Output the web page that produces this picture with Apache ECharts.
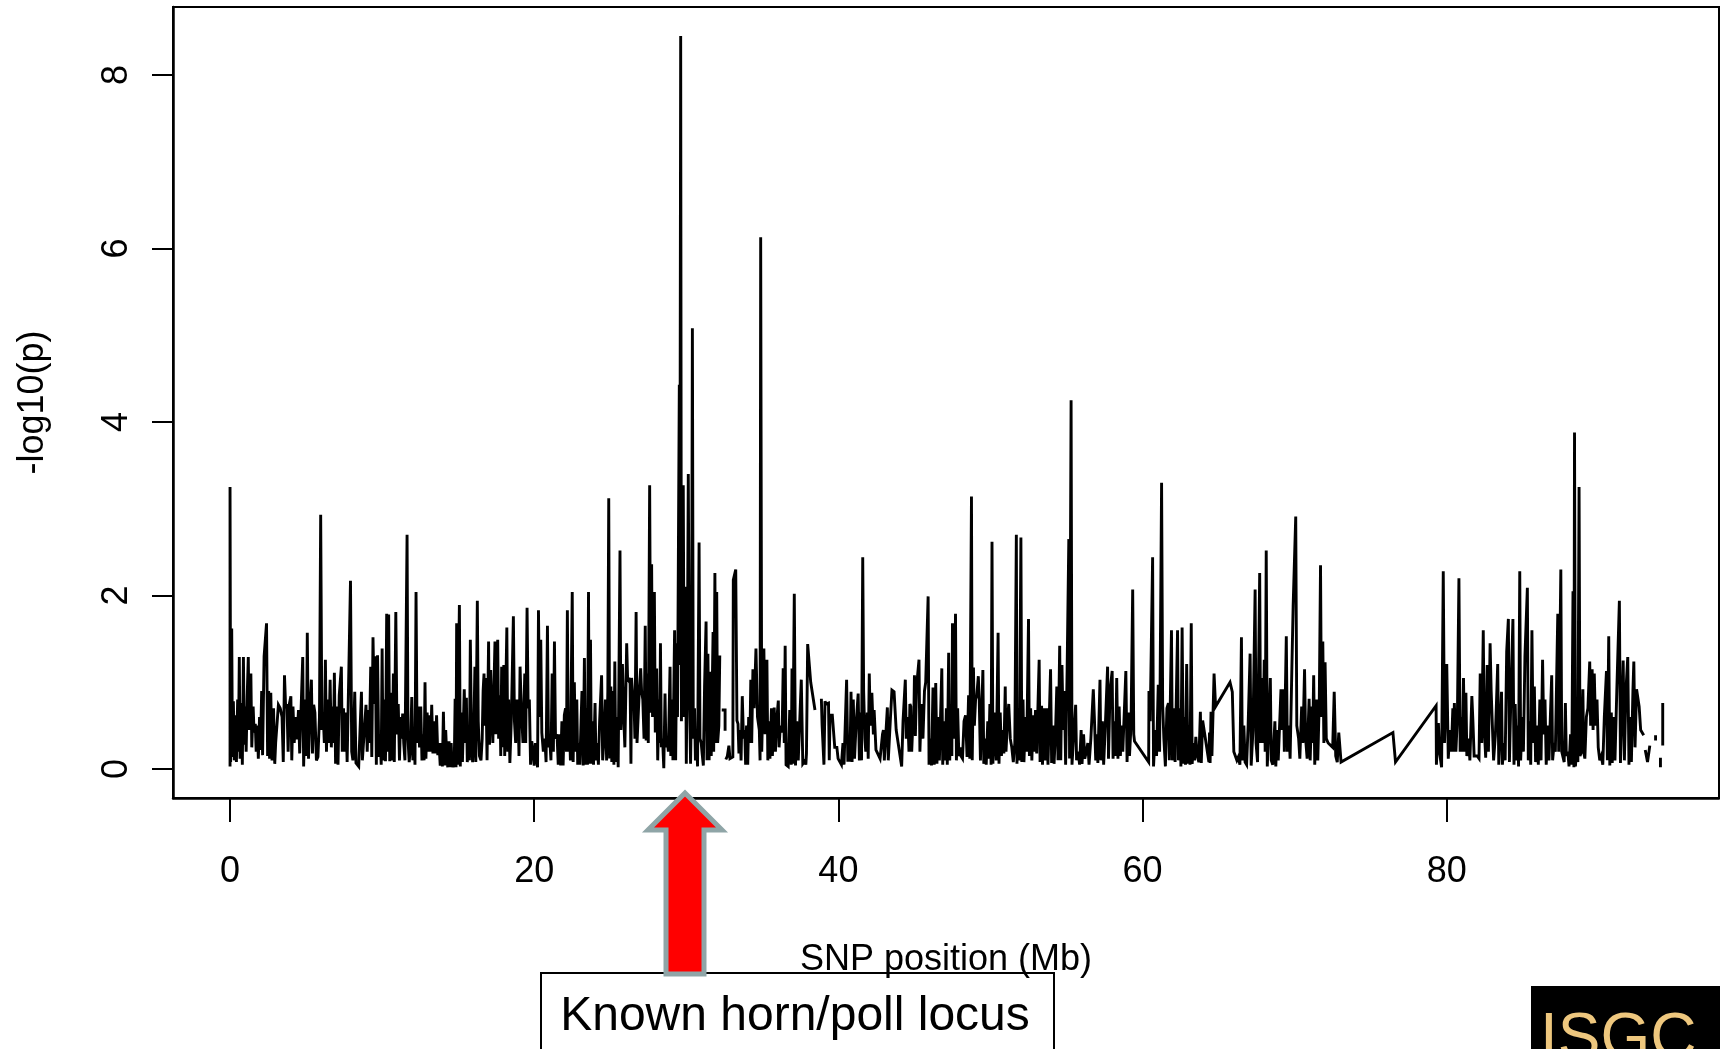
<!DOCTYPE html>
<html>
<head>
<meta charset="utf-8">
<style>html,body{margin:0;padding:0;background:#fff;overflow:hidden}#chart{width:1720px;height:1049px}</style>
<script src="https://cdn.jsdelivr.net/npm/echarts@6/dist/echarts.min.js"></script>
</head>
<body>
<div id="chart"></div>
<script>
const xTicks = [0, 20, 40, 60, 80];
const yTicks = [0, 2, 4, 6, 8];
const xTitle = 'SNP position (Mb)';
const yTitle = '-log10(p)';

// [position in Mb, -log10(p)], stretch by stretch
const snp0to10 = [[0,.03],[0,3.25],[.04,.08],[.11,1.62],[.16,.14],[.22,.78],[.28,.1],[.36,.62],[.42,.08],[.5,.8],[.55,.2],[.61,1.29],[.66,.12],[.74,.76],[.81,.05],[.88,1.29],[.94,.28],[1,.72],[1.06,.2],[1.13,.85],[1.2,1.29],[1.26,.45],[1.37,1.1],[1.43,.25],[1.52,.72],[1.58,.42],[1.66,.52],[1.72,.2],[1.8,.5],[1.86,.12],[1.94,.6],[2,.22],[2.08,.9],[2.14,.16],[2.24,1.3],[2.4,1.68],[2.47,.15],[2.54,.9],[2.6,.12],[2.68,.88],[2.76,.1],[2.86,.7],[2.94,.06],[3,.3],[3.18,.74],[3.3,.7],[3.42,.6],[3.5,.08],[3.58,1.08],[3.66,.7],[3.74,.75],[3.82,.2],[3.9,.75],[4,.84],[4.06,.1],[4.14,.72],[4.22,.3],[4.32,.6],[4.4,.34],[4.5,.68],[4.58,.18],[4.66,.2],[4.78,1.29],[4.84,.03],[4.94,.8],[5.02,.15],[5.08,1.57],[5.16,.12],[5.26,.7],[5.35,1.03],[5.42,.18],[5.5,.74],[5.58,.65],[5.68,.1],[5.78,.14],[5.88,.6],[5.96,2.93],[6.04,.45],[6.12,.65],[6.2,.3],[6.27,1.26],[6.34,.2],[6.42,.8],[6.5,.3],[6.58,1.03],[6.66,.25],[6.74,.72],[6.8,.3],[6.86,1.11],[6.94,.06],[7.02,.72],[7.1,.05],[7.18,.85],[7.32,1.18],[7.38,.2],[7.46,.7],[7.54,.2],[7.62,.65],[7.7,.08],[7.82,.1],[7.92,2.17],[8,.2],[8.08,.1],[8.2,.89],[8.28,.07],[8.38,.06],[8.46,.03],[8.54,.05],[8.64,.89],[8.7,.1],[8.8,.1],[8.94,.74],[9.02,.2],[9.1,.68],[9.16,.3],[9.25,1.18],[9.32,.14],[9.4,1.52],[9.48,.75],[9.56,1.3],[9.62,.05],[9.7,1.31],[9.78,.14],[9.86,.4],[9.94,.05]];
const snp10to20 = [[10,1.39],[10.06,.1],[10.14,.8],[10.22,.09],[10.3,1.79],[10.36,.2],[10.43,1.78],[10.5,.09],[10.58,.88],[10.66,.1],[10.74,1.1],[10.8,.08],[10.9,1.81],[10.98,.4],[11.06,.75],[11.14,.1],[11.22,.6],[11.28,.35],[11.35,.64],[11.42,.3],[11.5,.1],[11.64,2.7],[11.7,.35],[11.78,.08],[11.86,.25],[11.95,.83],[12.02,.1],[12.1,.42],[12.16,.05],[12.23,2.04],[12.3,.3],[12.38,.72],[12.46,.25],[12.54,.72],[12.62,.1],[12.7,.4],[12.76,.1],[12.82,1],[12.88,.12],[12.96,.65],[13.04,.2],[13.12,.62],[13.18,.2],[13.26,.74],[13.34,.18],[13.42,.55],[13.5,.18],[13.58,.62],[13.66,.16],[13.74,.3],[13.82,.04],[13.9,.3],[13.96,.03],[14.03,.66],[14.1,.04],[14.18,.45],[14.26,.1],[14.32,.02],[14.4,.32],[14.46,.02],[14.54,.3],[14.6,.02],[14.68,.1],[14.74,.02],[14.8,.81],[14.86,.02],[14.9,1.68],[14.95,.05],[15.08,1.89],[15.14,.03],[15.2,.65],[15.28,.08],[15.4,.92],[15.48,.3],[15.54,.82],[15.6,.08],[15.68,.3],[15.74,.1],[15.8,1.49],[15.88,.32],[15.95,.08],[16.02,.35],[16.1,1.18],[16.16,.08],[16.26,1.94],[16.32,.55],[16.4,.15],[16.5,.1],[16.58,.35],[16.64,.9],[16.7,1.1],[16.76,.5],[16.82,1.05],[16.9,.1],[17,1.47],[17.06,.28],[17.14,1.14],[17.2,.7],[17.28,.3],[17.34,.85],[17.42,1.47],[17.48,.4],[17.6,1.49],[17.66,.35],[17.74,.85],[17.8,.15],[17.86,1.18],[17.92,.25],[18,1.2],[18.06,.15],[18.2,1.63],[18.26,.2],[18.32,.8],[18.4,.07],[18.5,.6],[18.63,1.76],[18.7,.55],[18.78,.3],[18.86,.8],[18.94,.62],[19,.15],[19.07,1.18],[19.14,.75],[19.2,.75],[19.26,.3],[19.38,1.1],[19.44,.3],[19.53,1.86],[19.6,.7],[19.68,.8],[19.76,.05],[19.84,.32],[19.92,.2]];
const snp20to30 = [[20,.04],[20.08,.3],[20.14,.2],[20.22,.02],[20.28,1.83],[20.36,.6],[20.43,1.49],[20.5,.42],[20.6,.2],[20.7,.35],[20.78,.08],[20.87,1.65],[20.94,.25],[21.02,.35],[21.1,.1],[21.18,1.1],[21.26,.2],[21.33,1.47],[21.4,.35],[21.5,.4],[21.58,.05],[21.66,.4],[21.74,.04],[21.82,.55],[21.9,.04],[21.98,.62],[22.06,.7],[22.12,.2],[22.18,1.83],[22.24,.2],[22.3,.65],[22.38,.1],[22.5,2.04],[22.56,.08],[22.64,1],[22.7,.2],[22.8,.8],[22.86,.05],[22.94,.3],[23,.05],[23.08,.55],[23.14,.9],[23.22,.04],[23.3,1.28],[23.36,.05],[23.44,.7],[23.5,.05],[23.57,2.04],[23.62,.06],[23.7,1.49],[23.76,.06],[23.84,.55],[23.9,.05],[24,.76],[24.06,.1],[24.14,.3],[24.22,.05],[24.3,.55],[24.43,1.08],[24.5,.1],[24.6,.38],[24.68,.8],[24.76,.1],[24.84,.9],[24.9,3.12],[24.96,.12],[25.04,.95],[25.1,.08],[25.18,.9],[25.24,.05],[25.3,1.24],[25.36,.08],[25.44,.6],[25.52,.02],[25.64,2.52],[25.7,.45],[25.8,1.21],[25.88,.62],[25.96,.25],[26.08,1.45],[26.14,1.05],[26.22,1.02],[26.3,1.05],[26.36,.06],[26.4,1.05],[26.48,.85],[26.56,.8],[26.62,.35],[26.7,1.81],[26.76,.3],[26.84,.28],[26.92,.95],[27,1.16],[27.06,.9],[27.14,.8],[27.22,.35],[27.3,1.65],[27.36,.33],[27.44,1.1],[27.5,.3],[27.59,3.27],[27.66,.65],[27.72,2.36],[27.78,.6],[27.9,2.04],[27.96,.42],[28.05,1.16],[28.12,.1],[28.2,.8],[28.25,.3],[28.3,1.45],[28.36,.25],[28.44,.35],[28.52,.01],[28.6,.87],[28.66,.25],[28.74,.35],[28.82,.2],[28.93,1.18],[28.98,.15],[29.06,.8],[29.12,.1],[29.23,1.6],[29.3,.1],[29.37,1.45],[29.42,.6],[29.54,4.43],[29.57,1.2],[29.63,8.45],[29.68,.55],[29.74,1.7],[29.8,3.27],[29.86,.6],[29.94,2.1],[30,.06]];
const snp30to32 = [[30.08,1.6],[30.13,3.4],[30.2,.95],[30.28,.06],[30.34,.8],[30.4,5.08],[30.46,.35],[30.54,.7],[30.6,.1],[30.68,.33],[30.74,.03],[30.84,2.61],[30.9,.35],[30.98,.3],[31.04,.18],[31.12,.04],[31.2,.95],[31.3,1.7],[31.36,.1],[31.42,1.33],[31.5,.1],[31.56,1.12],[31.64,.15],[31.76,1.58],[31.8,.2],[31.88,2.26],[31.94,.3],[32,2.04],[32.06,.3],[32.14,.5],[32.2,1.31]];
const snp32short = [[32.33,.68],[32.55,.68],[32.55,.44]];
const snp33to38 = [[32.6,.11],[32.7,.15],[32.8,.27],[32.87,.12],[33.06,.14],[33.09,2.18],[33.25,2.3],[33.33,.56],[33.4,.52],[33.46,.18],[33.54,.45],[33.6,.1],[33.68,.84],[33.76,.35],[33.84,.45],[33.9,.05],[33.96,.5],[34.04,.05],[34.1,.6],[34.18,.3],[34.24,1.03],[34.3,.3],[34.38,1.15],[34.46,.7],[34.58,1.39],[34.68,.6],[34.8,.45],[34.85,.1],[34.89,6.13],[34.96,.2],[35.04,.85],[35.1,1.39],[35.18,.4],[35.3,1.26],[35.36,.1],[35.44,.55],[35.5,.12],[35.6,.7],[35.66,.15],[35.78,.71],[35.86,.2],[35.94,.55],[36.05,.79],[36.1,.25],[36.18,.5],[36.3,.42],[36.37,1.16],[36.44,.3],[36.5,1.42],[36.56,.05],[36.7,.03],[36.8,.68],[36.9,.05],[36.95,1.16],[37,.06],[37.1,2.02],[37.18,.04],[37.26,.55],[37.36,.1],[37.44,.1],[37.56,1.03],[37.66,.06],[37.74,.04],[37.82,.1],[37.86,.05],[37.9,.18],[37.98,1.44],[38.1,1.44],[38.18,1],[38.46,.68]];
const snp39to45 = [[38.88,.81],[38.93,.5],[39.05,.05],[39.12,.78],[39.2,.75],[39.35,.76],[39.4,.1],[39.45,.62],[39.6,.62],[39.66,.62],[39.76,.25],[39.9,.25],[39.98,.12],[40.1,.14],[40.2,.05],[40.3,.3],[40.37,.05],[40.54,1.03],[40.62,.1],[40.76,.1],[40.83,.89],[40.9,.08],[40.98,.8],[41.06,.12],[41.16,.5],[41.3,.87],[41.38,.1],[41.46,.65],[41.52,.1],[41.6,2.44],[41.66,.9],[41.74,.35],[41.8,.2],[41.9,.65],[41.96,.12],[42.03,1.1],[42.1,.5],[42.2,.88],[42.3,.4],[42.35,.68],[42.47,.22],[42.74,.12],[42.9,.4],[42.96,.45],[43.02,.1],[43.22,.71],[43.28,.1],[43.42,.58],[43.52,.91],[43.66,.89],[43.8,.45],[44.16,.03],[44.25,.55],[44.4,1.03],[44.46,.35],[44.56,.6],[44.64,.2],[44.7,.75],[44.76,.72],[44.82,.2],[44.9,.55],[44.95,.45]];
const snp45to50 = [[45,1.08],[45.06,.38],[45.14,.95],[45.3,1.26],[45.36,.2],[45.46,.75],[45.56,.35],[45.66,.9],[45.74,1],[45.9,1.99],[45.96,.05],[46.04,.35],[46.12,.04],[46.22,.94],[46.3,.05],[46.4,.99],[46.48,.06],[46.56,.6],[46.64,.1],[46.8,1.16],[46.86,.05],[46.94,.55],[47.02,.1],[47.1,.7],[47.16,.05],[47.25,1.34],[47.32,.1],[47.4,.75],[47.46,.15],[47.5,1.68],[47.6,.35],[47.7,1.79],[47.76,.1],[47.84,.7],[47.92,.15],[48,.25],[48.06,.15],[48.16,.12],[48.26,.55],[48.36,.62],[48.46,.14],[48.56,.85],[48.64,.12],[48.75,3.14],[48.8,.1],[48.88,1.17],[48.94,.5],[49.02,.8],[49.1,.85],[49.2,1.07],[49.26,.8],[49.34,.1],[49.5,1.14],[49.56,.06],[49.66,.35],[49.72,.05],[49.82,.55],[49.88,.12],[49.96,.75],[50.04,.05]];
const snp50to60 = [[50.1,2.62],[50.16,.06],[50.24,.65],[50.3,.4],[50.38,.1],[50.5,1.57],[50.56,.06],[50.64,.65],[50.72,.15],[50.8,.45],[50.88,.18],[50.97,.95],[51.02,.2],[51.1,.5],[51.2,.75],[51.3,.35],[51.4,.25],[51.5,.08],[51.6,.3],[51.7,2.7],[51.74,.06],[51.84,.7],[51.9,.1],[52,2.67],[52.06,.08],[52.14,.8],[52.2,.08],[52.3,.6],[52.38,.2],[52.5,1.73],[52.56,.15],[52.64,.7],[52.72,.1],[52.8,.62],[52.86,.2],[52.96,.68],[53.04,.18],[53.2,1.26],[53.26,.08],[53.36,.73],[53.42,.05],[53.52,.7],[53.6,.1],[53.7,.7],[53.78,.05],[53.95,1.15],[54.02,.07],[54.1,.5],[54.18,.06],[54.28,.45],[54.36,.95],[54.44,.1],[54.55,1.42],[54.62,.1],[54.7,1.2],[54.78,.45],[54.86,.9],[54.94,.05],[55.04,1.15],[55.15,2.65],[55.2,.12],[55.3,4.25],[55.36,.05],[55.46,.35],[55.6,.74],[55.66,.1],[55.76,.2],[55.86,.05],[55.96,.45],[56.02,.06],[56.12,.4],[56.2,.12],[56.3,.2],[56.4,.3],[56.48,.05],[56.6,.35],[56.76,.92],[56.84,.55],[56.92,.1],[57,.4],[57.06,.07],[57.2,1.03],[57.26,.1],[57.36,.55],[57.44,.05],[57.54,.45],[57.7,1.18],[57.76,.12],[57.86,.9],[58,1.13],[58.06,.12],[58.14,.55],[58.22,.15],[58.3,1.05],[58.38,.12],[58.46,.72],[58.54,.15],[58.62,.5],[58.7,.2],[58.9,1.13],[58.98,.08],[59.06,.65],[59.14,.15],[59.24,.5],[59.35,2.07],[59.42,.4],[59.47,.32]];
const snp60to73 = [[60.4,.08],[60.42,.9],[60.5,.55],[60.66,2.44],[60.72,.03],[60.84,.45],[60.92,.15],[61.03,.97],[61.12,.2],[61.25,3.3],[61.32,.75],[61.4,.35],[61.5,.03],[61.6,.7],[61.7,.76],[61.76,.1],[61.9,1.6],[61.96,.1],[62.06,.7],[62.14,.08],[62.3,1.6],[62.36,.1],[62.46,.7],[62.52,.03],[62.6,1.63],[62.68,.06],[62.76,.6],[62.82,.05],[62.9,1.21],[62.98,.06],[63.06,.5],[63.12,.05],[63.2,1.68],[63.26,.06],[63.36,.3],[63.42,.1],[63.5,.37],[63.6,.15],[63.7,.08],[63.8,.66],[63.86,.07],[63.95,.56],[64.36,.08],[64.4,.42],[64.44,.07],[64.5,.66],[64.56,.15],[64.7,1.1],[64.8,.72],[65.75,1],[65.9,.89],[66,.2],[66.1,.15],[66.2,.1],[66.3,.14],[66.4,.05],[66.5,1.52],[66.56,.1],[66.66,.5],[66.74,.08],[66.84,.05],[66.94,.5],[67.07,1.33],[67.14,.04],[67.26,.45],[67.4,2.07],[67.46,.3],[67.56,.08],[67.7,2.26],[67.76,.3],[67.84,1.05],[67.92,.3],[68,1.26],[68.06,.2],[68.13,2.52],[68.2,.03],[68.3,.5],[68.4,1.05],[68.46,.1],[68.56,.05],[68.7,.55],[68.76,.03],[68.84,.45],[68.92,.1],[69.1,.92],[69.16,.45],[69.26,.92],[69.32,.2],[69.45,1.53],[69.52,.2],[69.62,.5],[69.7,.12],[69.82,1.2],[69.9,1.88],[70.07,2.91],[70.14,.5],[70.26,.35],[70.34,.12],[70.46,.72],[70.54,.3],[70.65,1.15],[70.72,.35],[70.82,.12],[70.95,.81],[71.02,.1],[71.12,.72],[71.18,.3],[71.25,1.08],[71.32,.05],[71.44,.8],[71.52,.1],[71.62,.8],[71.7,2.35],[71.76,.6],[71.85,1.47],[71.92,.3],[72,1.23],[72.08,.35],[72.2,.3],[72.5,.25],[72.6,.89],[72.7,.15],[72.8,.08],[72.9,.42],[73.05,.08]];
const snp73to80 = [[76.46,.42],[76.63,.08],[79.3,.73],[79.32,.05],[79.45,.53],[79.52,.2],[79.66,.02],[79.77,2.28],[79.85,.3],[80,1.21],[80.1,.12],[80.2,.45],[80.3,.2],[80.4,.7],[80.44,.2],[80.5,.76],[80.6,.2],[80.7,.6],[80.8,2.2],[80.88,.2],[80.96,.6],[81.03,.2],[81.1,1.05],[81.18,.2],[81.26,.88],[81.32,.15],[81.44,.35],[81.52,.1],[81.65,.84],[81.72,.55],[81.8,.15],[81.9,.13],[82,.15],[82.12,.12],[82.2,1.1],[82.3,.3],[82.4,1.6],[82.46,.5],[82.56,.13],[82.66,1.2],[82.74,.2],[82.85,1.45],[82.92,.9],[83,.5],[83.08,.1],[83.2,.4],[83.35,1.21],[83.42,.05],[83.5,.4],[83.6,.89],[83.66,.05],[83.76,.3],[83.84,.1],[83.94,1.35],[84.05,1.73],[84.12,.08],[84.22,.85],[84.35,1.73],[84.42,.05],[84.5,.75],[84.58,.1],[84.66,.5],[84.72,.03],[84.8,2.28],[84.86,.1],[84.96,.6],[85.04,.2],[85.14,1.3],[85.3,2.09],[85.36,.1],[85.46,.55],[85.52,.05],[85.6,1.6],[85.68,.3],[85.76,.95],[85.84,.08],[85.94,.5],[86.02,.05],[86.12,.8],[86.2,.1],[86.3,1.26],[86.38,.4],[86.46,.8],[86.54,.05],[86.64,.5],[86.72,.1],[86.9,1.08],[86.96,.1],[87.06,.3],[87.14,.2],[87.3,1.79],[87.36,.2],[87.5,2.3],[87.56,.2],[87.64,.2],[87.72,.08],[87.8,.76],[87.86,.15],[87.96,.2],[88.04,.03],[88.14,.4],[88.22,.05],[88.3,2.05],[88.36,.02],[88.4,3.88],[88.46,.03],[88.56,.3],[88.62,.08],[88.7,3.25],[88.76,.15],[88.86,.2],[88.95,.92],[89,.2],[89.08,.12],[89.18,.6],[89.28,.7],[89.4,1.24],[89.46,.5],[89.56,1.15],[89.62,.45],[89.7,1.1],[89.78,.5],[89.88,.8],[89.96,.25],[90.06,.1],[90.16,.15],[90.26,.05],[90.36,.6],[90.5,1.13],[90.56,.1],[90.65,1.53],[90.72,.04],[90.82,.65],[90.88,.07],[90.98,.6],[91.06,.1],[91.18,.9],[91.35,1.94],[91.42,.07],[91.52,.7],[91.6,1.25],[91.68,.1],[91.78,.9],[91.9,1.29],[91.98,.05],[92.08,.6],[92.14,.08],[92.24,.9],[92.3,1.24],[92.38,.25],[92.48,.92],[92.58,.9],[92.65,.72],[92.75,.45],[92.95,.39]];
const snpTail1 = [[93.05,.22],[93.2,.08],[93.35,.27]];
const snpTail2 = [[93.73,.39],[93.73,.33]];
const snpTail3 = [[94.05,.13],[94.05,.02]];
const snpTail4 = [[94.2,.76],[94.2,.27]];

// runs of connected points; the reference breaks its line between them
const connectedRuns = [
  [...snp0to10, ...snp10to20, ...snp20to30, ...snp30to32],
  snp32short,
  snp33to38,
  [...snp39to45, ...snp45to50, ...snp50to60, ...snp60to73, ...snp73to80],
  snpTail1, snpTail2, snpTail3, snpTail4
];
const lineData = [];
connectedRuns.forEach((run, i) => {
  if (i > 0) lineData.push([run[0][0], null]);
  run.forEach(p => lineData.push(p));
});

const FONT = '"Liberation Sans", Arial, sans-serif';
const chart = echarts.init(document.getElementById('chart'), null, {renderer: 'canvas'});
chart.setOption({
  animation: false,
  backgroundColor: '#fff',
  grid: {left: 173, right: 1, top: 7, bottom: 251, show: true, borderColor: '#000', borderWidth: 2, backgroundColor: 'transparent', containLabel: false, outerBoundsMode: 'none'},
  xAxis: {
    type: 'value', min: -3.75, max: 97.9,
    name: xTitle, nameLocation: 'middle', nameGap: 144,
    nameTextStyle: {color: '#000', fontFamily: FONT, fontSize: 36},
    splitLine: {show: false},
    axisLine: {show: true, onZero: false, lineStyle: {color: '#000', width: 2.5}},
    axisTick: {show: true, length: 24, customValues: xTicks, lineStyle: {color: '#000', width: 2}},
    axisLabel: {show: true, customValues: xTicks, color: '#000', fontFamily: FONT, fontSize: 36, margin: 56, hideOverlap: false, showMinLabel: true, showMaxLabel: true}
  },
  yAxis: {
    type: 'value', min: -0.334, max: 8.784,
    name: yTitle, nameLocation: 'middle', nameGap: 122, nameRotate: 90,
    nameTextStyle: {color: '#000', fontFamily: FONT, fontSize: 36},
    splitLine: {show: false},
    axisLine: {show: true, onZero: false, lineStyle: {color: '#000', width: 2.5}},
    axisTick: {show: true, length: 21, customValues: yTicks, lineStyle: {color: '#000', width: 2}},
    axisLabel: {show: true, customValues: yTicks, rotate: 90, color: '#000', fontFamily: FONT, fontSize: 36, margin: 38, hideOverlap: false, showMinLabel: true, showMaxLabel: true}
  },
  series: [{
    type: 'line', data: lineData, showSymbol: false, symbol: 'none', smooth: false, connectNulls: false,
    lineStyle: {color: '#000', width: 2.9, join: 'miter', miterLimit: 4, cap: 'butt'},
    clip: true, progressive: 0
  }],
  graphic: [
    {type: 'rect', z: 50, shape: {x: 541, y: 973, width: 513, height: 120}, style: {fill: 'none', stroke: '#000', lineWidth: 2}},
    {type: 'polygon', z: 60, shape: {points: [[685,793],[722,830],[704,830],[704,974],[666,974],[666,830],[648,830]]},
      style: {fill: '#ff0000', stroke: '#8fa5a7', lineWidth: 5, lineJoin: 'miter', miterLimit: 10}},
    {type: 'text', z: 60, x: 795, y: 1017, style: {text: 'Known horn/poll locus', fill: '#000', font: '48px ' + FONT, textAlign: 'center', textVerticalAlign: 'middle'}},
    {type: 'rect', z: 50, shape: {x: 1531, y: 986, width: 189, height: 63}, style: {fill: '#000'}},
    {type: 'text', z: 60, x: 1540, y: 1040, style: {text: 'ISGC', fill: '#eec77e', font: '64px ' + FONT, textAlign: 'left', textVerticalAlign: 'middle'}}
  ]
});
</script>
</body>
</html>
